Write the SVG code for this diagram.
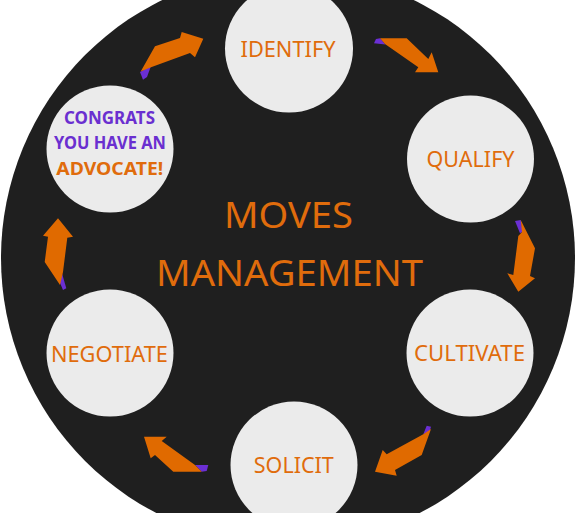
<svg xmlns="http://www.w3.org/2000/svg" width="576" height="513" viewBox="0 0 576 513">
<style>
.bg{fill:#1f1f1f}
.node{fill:#ebebeb}
.lbl{font-family:"Noto Sans","Liberation Sans",sans-serif;font-size:21px;fill:#e06c0c;text-anchor:middle}
.title{font-family:"Noto Sans","Liberation Sans",sans-serif;font-size:37px;fill:#e06c0c;text-anchor:middle}
.cg{font-family:"Noto Sans","Liberation Sans",sans-serif;font-size:18px;font-weight:bold;text-anchor:middle}
.pur{fill:#6a2fd0}
.org{fill:#e06c0c}
.arr{fill:#e06a00}
.tail{fill:#6b2fd4}
</style>
<rect width="576" height="513" fill="#ffffff"/>
<circle class="bg" cx="288" cy="258" r="287"/>
<g id="title">
<text class="title" x="288.5" y="228" textLength="129" lengthAdjust="spacingAndGlyphs">MOVES</text>
<text class="title" x="289.5" y="286" textLength="267" lengthAdjust="spacingAndGlyphs">MANAGEMENT</text>
</g>
<g id="connectors">
<polygon class="tail" points="140,72 151,66 147,77 143,79.7"/>
<polygon class="arr" points="140.7,71.5 155,46.3 180,38 181.7,32 203.3,38.7 195,57.3 190,53 151,67.3"/>
<polygon class="tail" points="374,43.3 376,39 380,38.3 385.5,44.5"/>
<polygon class="arr" points="380,38.3 406.7,38.3 428.3,59 431.7,52.3 438.3,72.3 415,72.3 418.3,67.3 385,44"/>
<polygon class="tail" points="515,221 520.7,220 522.7,231.7 520,233.3"/>
<polygon class="arr" points="520.7,220 535,248.3 530,276 535,278.3 518.3,291.7 507.3,273.3 513.3,275 518.3,236 522,232"/>
<polygon class="tail" points="423.3,434.3 426.7,425.7 431,426.7 429.3,432.3"/>
<polygon class="arr" points="431,429 421.7,455 395,470 396.7,475.7 375,471.7 382.7,450 386.7,454.3 423.3,434.3"/>
<polygon class="tail" points="195,465 208.3,465 206.7,471 201.7,471.7"/>
<polygon class="arr" points="201.7,471.7 173.3,471.7 155,455 150.7,458.3 144,436.7 166.7,436.7 161.7,441 195,465"/>
<polygon class="tail" points="58,278.3 61.3,271 66.3,288.3 63,290"/>
<polygon class="arr" points="60,285 44.7,262 48,236.7 43,235.7 58,218.3 73,236.7 67.3,237.7 63,272"/>
</g>
<g id="identify">
<circle class="node" cx="289" cy="48.5" r="64"/>
<text class="lbl" x="288" y="57" textLength="95" lengthAdjust="spacingAndGlyphs">IDENTIFY</text>
</g>
<g id="qualify">
<circle class="node" cx="470.5" cy="159" r="63.5"/>
<text class="lbl" x="470.5" y="167" textLength="88" lengthAdjust="spacingAndGlyphs">QUALIFY</text>
</g>
<g id="cultivate">
<circle class="node" cx="470" cy="353" r="63.5"/>
<text class="lbl" x="469.5" y="361" textLength="111" lengthAdjust="spacingAndGlyphs">CULTIVATE</text>
</g>
<g id="solicit">
<circle class="node" cx="294" cy="465" r="63.5"/>
<text class="lbl" x="293.8" y="473" textLength="80" lengthAdjust="spacingAndGlyphs">SOLICIT</text>
</g>
<g id="negotiate">
<circle class="node" cx="110" cy="353" r="63.5"/>
<text class="lbl" x="109.4" y="361.5" textLength="117" lengthAdjust="spacingAndGlyphs">NEGOTIATE</text>
</g>
<g id="congrats">
<circle class="node" cx="110" cy="149" r="63.5"/>
<text class="cg pur" x="109.5" y="124" textLength="91" lengthAdjust="spacingAndGlyphs">CONGRATS</text>
<text class="cg pur" x="110" y="149" textLength="112" lengthAdjust="spacingAndGlyphs">YOU HAVE AN</text>
<text class="cg org" x="109.8" y="175" textLength="107" lengthAdjust="spacingAndGlyphs">ADVOCATE!</text>
</g>
</svg>
